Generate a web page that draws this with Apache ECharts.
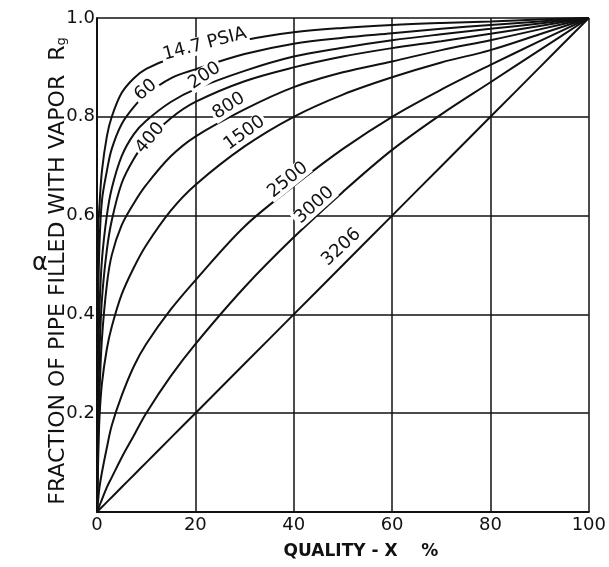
<!DOCTYPE html>
<html><head><meta charset="utf-8">
<script src="https://cdn.jsdelivr.net/npm/echarts@6/dist/echarts.min.js"></script>
<style>html,body{margin:0;padding:0;background:#fff}#c{width:609px;height:567px}</style>
</head><body><div id="c"></div>
<script>
// Quality (x, %) sample points shared by all curves
const quality = [0, 0.25, 0.5, 1, 2, 3, 5, 7.5, 10, 15, 20, 30, 40, 50, 60, 70, 80, 90, 100];
// Fraction of pipe filled with vapor, one array per pressure (psia)
const p14_7 = [0, 0.57, 0.62, 0.69, 0.76, 0.80, 0.848, 0.878, 0.897, 0.918, 0.93, 0.955, 0.971, 0.98, 0.986, 0.99, 0.993, 0.997, 1];
const p60   = [0, 0.42, 0.54, 0.63, 0.69, 0.735, 0.785, 0.82, 0.845, 0.878, 0.896, 0.927, 0.948, 0.96, 0.969, 0.978, 0.986, 0.993, 1];
const p200  = [0, 0.30, 0.41, 0.51, 0.60, 0.655, 0.72, 0.765, 0.792, 0.83, 0.856, 0.893, 0.922, 0.94, 0.955, 0.967, 0.978, 0.989, 1];
const p400  = [0, 0.22, 0.32, 0.43, 0.53, 0.59, 0.665, 0.715, 0.75, 0.797, 0.83, 0.872, 0.90, 0.922, 0.939, 0.953, 0.968, 0.984, 1];
const p800  = [0, 0.15, 0.24, 0.35, 0.46, 0.52, 0.58, 0.625, 0.662, 0.72, 0.76, 0.815, 0.86, 0.89, 0.912, 0.935, 0.955, 0.977, 1];
const p1500 = [0, 0.11, 0.19, 0.26, 0.33, 0.375, 0.44, 0.495, 0.54, 0.61, 0.662, 0.74, 0.80, 0.845, 0.88, 0.91, 0.935, 0.967, 1];
const p2500 = [0, 0.025, 0.05, 0.08, 0.13, 0.175, 0.235, 0.295, 0.34, 0.41, 0.469, 0.578, 0.66, 0.735, 0.80, 0.855, 0.905, 0.953, 1];
const p3000 = [0, 0.006, 0.013, 0.025, 0.05, 0.07, 0.11, 0.155, 0.20, 0.275, 0.34, 0.455, 0.556, 0.648, 0.733, 0.805, 0.87, 0.935, 1];
const p3206 = [0, 0.0025, 0.005, 0.01, 0.02, 0.03, 0.05, 0.075, 0.10, 0.15, 0.20, 0.30, 0.40, 0.50, 0.60, 0.70, 0.80, 0.90, 1];
const curves = [p14_7, p60, p200, p400, p800, p1500, p2500, p3000, p3206];
// Curve labels and where they sit (data units)
const curveNames = ['14.7 PSIA', '60', '200', '400', '800', '1500', '2500', '3000', '3206'];
const labelQuality  = [21.9, 9.9, 21.9, 10.8, 26.8, 30.0, 38.8, 44.2, 49.7];
const labelFraction = [0.947, 0.854, 0.883, 0.757, 0.822, 0.767, 0.672, 0.621, 0.536];
const labelAngle = [15, 40, 34, 50, 33, 36, 39, 42, 43];
// Axis ticks
const xTicks = [0, 20, 40, 60, 80, 100];
const yTicks = [0, 0.2, 0.4, 0.6, 0.8, 1.0];
const yTickText = ['', '0.2', '0.4', '0.6', '0.8', '1.0'];

const ink = '#111';
const font = 'DejaVu Sans';
const chart = echarts.init(document.getElementById('c'), null, {renderer: 'canvas'});

const series = curves.map((vals, i) => ({
  type: 'line', name: curveNames[i],
  data: quality.map((q, k) => [q, vals[k]]),
  showSymbol: false, symbol: 'none',
  smooth: 0.35,
  lineStyle: {color: ink, width: 2},
  z: 3, silent: true
}));
series.push({
  type: 'scatter', symbolSize: 0, z: 5, silent: true,
  data: curveNames.map((n, i) => ({
    value: [labelQuality[i], labelFraction[i]],
    label: {rotate: labelAngle[i]}
  })),
  label: {
    show: true, position: 'inside',
    formatter: p => curveNames[p.dataIndex],
    color: ink, fontFamily: font, fontSize: 18, opacity: 1,
    textBorderWidth: 0, textBorderColor: 'transparent',
    backgroundColor: '#fff', padding: [0, 2]
  },
  labelLayout: {hideOverlap: false}
});

chart.setOption({
  animation: false,
  backgroundColor: '#fff',
  grid: {left: 97, right: 19, top: 18, bottom: 55, containLabel: false},
  xAxis: {
    type: 'value', min: 0, max: 100, interval: 20,
    name: 'QUALITY - X    %', nameLocation: 'middle', nameGap: 31,
    nameTextStyle: {color: ink, fontFamily: font, fontSize: 17, fontWeight: 'bold', padding: [0, 0, 0, 36]},
    axisLine: {show: true, lineStyle: {color: ink, width: 2}},
    axisTick: {show: false},
    axisLabel: {color: ink, fontFamily: font, fontSize: 18, margin: 4,
      formatter: v => xTicks.includes(v) ? String(v) : ''},
    splitLine: {show: true, lineStyle: {color: ink, width: 1.5}}
  },
  yAxis: {
    type: 'value', min: 0, max: 1, interval: 0.2,
    name: '{t|FRACTION OF PIPE FILLED WITH VAPOR  R}{s|g}', nameLocation: 'middle', nameGap: 28,
    nameRotate: 90, nameMoveOverlap: false,
    nameTextStyle: {color: ink, fontFamily: font, fontSize: 22, padding: [0, 12, 0, 0],
      rich: {t: {fontFamily: font, fontSize: 22, color: ink}, s: {fontFamily: font, fontSize: 13, color: ink, padding: [8, 0, 0, 0]}}},
    axisLine: {show: true, lineStyle: {color: ink, width: 2}},
    axisTick: {show: false},
    axisLabel: {color: ink, fontFamily: font, fontSize: 18, margin: 2,
      formatter: v => { const i = yTicks.findIndex(t => Math.abs(t - v) < 1e-6); return i >= 0 ? yTickText[i] : ''; }},
    splitLine: {show: true, lineStyle: {color: ink, width: 1.5}}
  },
  graphic: [{
    type: 'text', left: 32, top: 252, z: 10,
    style: {text: 'α', fill: ink, font: '24px "DejaVu Sans"'}
  }],
  series
});
</script></body></html>
